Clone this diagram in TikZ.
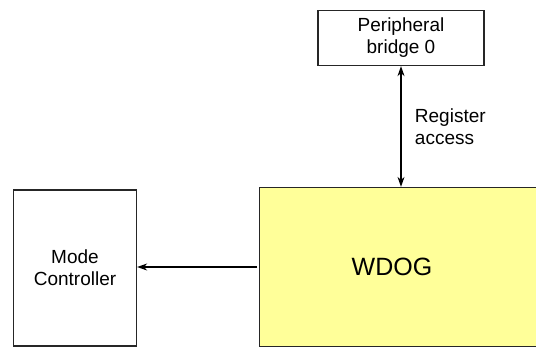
\documentclass[tikz,border=0pt]{standalone}
\usepackage{fontspec}
\setmainfont{Liberation Sans}
\usetikzlibrary{arrows.meta,positioning,calc}
\definecolor{wdogyellow}{HTML}{FFFF99}

\begin{document}
\begin{tikzpicture}[x=1pt,y=-1pt,
  >={Stealth[length=10pt,width=7pt]},
  blk/.style={draw=black!85, line width=1.3pt, inner sep=0pt, align=center,
    font=\fontsize{19}{22}\selectfont},
  lbl/.style={font=\fontsize{19}{22}\selectfont, align=left},
  sig/.style={line width=1.2pt}
]
\useasboundingbox (0,0) rectangle (536,348);
\clip (0,0) rectangle (536,348);

% Blocks
\node[blk, minimum width=166pt, minimum height=55pt] (bridge) at (401,38) {Peripheral\\bridge 0};
\node[blk, minimum width=123pt, minimum height=156pt] (mode) at (75,268) {Mode\\Controller};
\node[blk, fill=wdogyellow, minimum width=330pt, minimum height=159pt, anchor=west] (wdog) at (259,267) {};
\node[font=\fontsize{25}{30}\selectfont] (wdoglbl) at (392,267) {WDOG};

% Signals
\draw[sig, <->] (bridge.south) -- (bridge.south |- wdog.north)
  node[lbl, midway, right=10pt] {Register\\access};
\draw[sig, ->, shorten <=2pt] (wdog.west) -- (wdog.west -| mode.east);

\end{tikzpicture}
\end{document}
